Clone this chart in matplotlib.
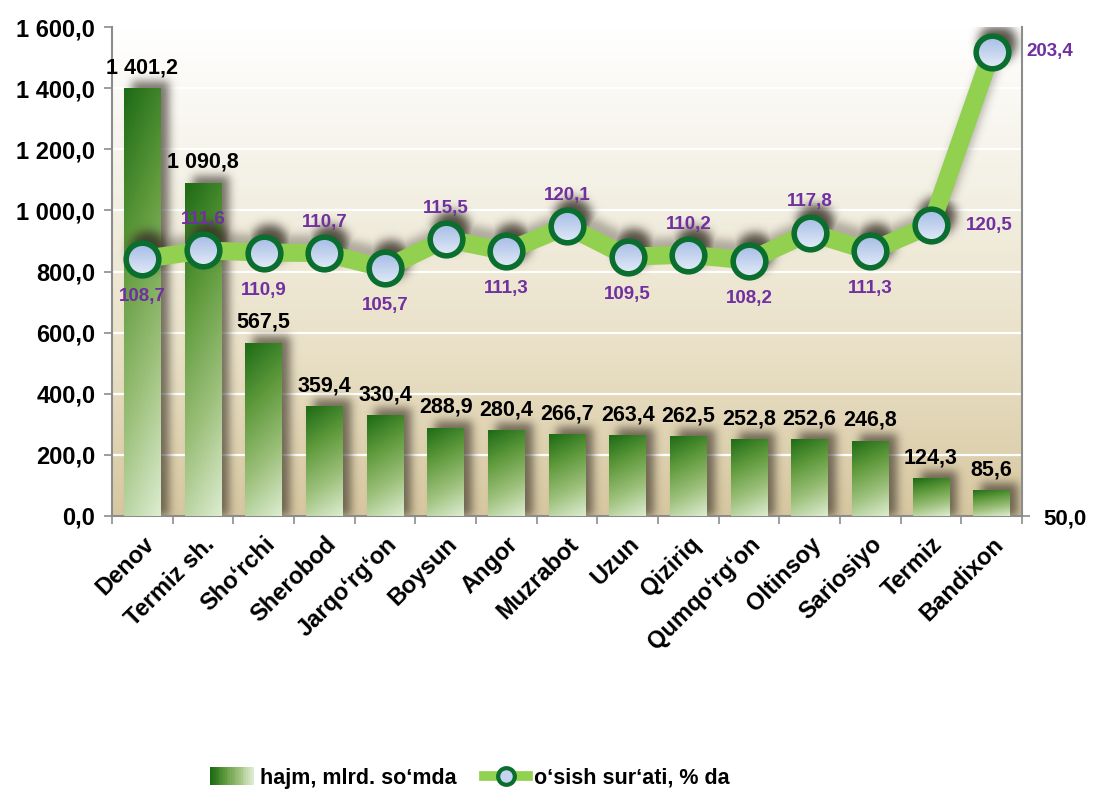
import matplotlib
matplotlib.use("Agg")
import matplotlib.pyplot as plt
import numpy as np
from matplotlib.colors import LinearSegmentedColormap
from matplotlib.patches import Rectangle, Circle
from matplotlib.lines import Line2D
from matplotlib.legend_handler import HandlerBase
from matplotlib.transforms import IdentityTransform
from matplotlib.ticker import FixedLocator, FuncFormatter

plt.rcParams["font.family"] = ["Liberation Sans", "DejaVu Sans"]
plt.rcParams["font.weight"] = "bold"

districts = ["Denov", "Termiz sh.", "Sho‘rchi", "Sherobod", "Jarqo‘rg‘on", "Boysun", "Angor",
             "Muzrabot", "Uzun", "Qiziriq", "Qumqo‘rg‘on", "Oltinsoy", "Sariosiyo", "Termiz", "Bandixon"]
hajm = [1401.2, 1090.8, 567.5, 359.4, 330.4, 288.9, 280.4, 266.7, 263.4, 262.5, 252.8, 252.6, 246.8, 124.3, 85.6]
osish = [108.7, 111.6, 110.9, 110.7, 105.7, 115.5, 111.3, 120.1, 109.5, 110.2, 108.2, 117.8, 111.3, 120.5, 203.4]
label_side = ["below", "above", "below", "above", "below", "above", "below", "above",
              "below", "above", "below", "above", "below", "right", "right"]

LINE_GREEN = "#92d050"
EDGE_GREEN = "#0a6e2e"
PURPLE = "#7030a0"
SHADOW_RGB = np.array([55, 48, 38]) / 255.0
bar_cmap = LinearSegmentedColormap.from_list("bar", ["#dcecd0", "#9cc07a", "#5f9a3c", "#1d6b15"])
bg_cmap = LinearSegmentedColormap.from_list("bg", ["#d7c7a0", "#e9e0c6", "#f3f0e4", "#ffffff"])
marker_cmap = LinearSegmentedColormap.from_list("mk", ["#e4ebf7", "#a4bce6"])


def fmt_num(v, _=None):
    return f"{v:,.1f}".replace(",", " ").replace(".", ",")


def blur(mask, sigma):
    r = int(3 * sigma)
    k = np.exp(-0.5 * (np.arange(-r, r + 1) / sigma) ** 2)
    k /= k.sum()
    out = np.apply_along_axis(lambda m: np.convolve(m, k, mode="same"), 0, mask)
    return np.apply_along_axis(lambda m: np.convolve(m, k, mode="same"), 1, out)


def shadow_image(alpha):
    img = np.zeros(alpha.shape + (4,))
    img[..., :3] = SHADOW_RGB
    img[..., 3] = np.clip(alpha, 0, 1)
    return img


fig = plt.figure(figsize=(10.93, 7.94), dpi=100)
ax = fig.add_axes([112 / 1093, 1 - 516 / 794, 910 / 1093, 489 / 794])
n = len(districts)
x = np.arange(n)
ax.set_xlim(-0.5, n - 0.5)
ax.set_ylim(0, 1600)

# pixel grid of the plot area for the soft shadows
bb = ax.bbox
W, H = int(round(bb.width)), int(round(bb.height))
PX = np.arange(W) + 0.5 + bb.x0
PY = np.arange(H) + 0.5 + bb.y0
GX, GY = np.meshgrid(PX, PY)

# background gradient
grad = np.linspace(0, 1, 256).reshape(-1, 1)
ax.imshow(grad, extent=(-0.5, n - 0.5, 0, 1600), origin="lower", aspect="auto",
          cmap=bg_cmap, zorder=0)
for yv in np.arange(200, 1601, 200):
    ax.axhline(yv, color="white", lw=1.6, zorder=1)

bw = 0.6
bars = ax.bar(x, hajm, width=bw, color="none", zorder=3)

# bar shadows (offset right and up, blurred)
bar_mask = np.zeros((H, W))
for rect in bars:
    (l, b), (r, t) = ax.transData.transform([(rect.get_x(), 0),
                                             (rect.get_x() + rect.get_width(), rect.get_height())])
    bar_mask[(GX >= l + 8) & (GX <= r + 8) & (GY <= t + 7)] = 1.0
ax.imshow(shadow_image(blur(bar_mask, 4.5) * 0.65), extent=(0, 1, 0, 1), origin="lower",
          aspect="auto", transform=ax.transAxes, zorder=2)

yy, xx = np.mgrid[0:1:100j, 0:1:40j]
garr = 0.82 * yy + 0.18 * (1 - xx)
for rect in bars:
    x0, w, h = rect.get_x(), rect.get_width(), rect.get_height()
    im = ax.imshow(garr, extent=(x0, x0 + w, 0, h), origin="lower", aspect="auto",
                   cmap=bar_cmap, vmin=0, vmax=1, zorder=3)
    im.set_clip_path(rect)

for i, h in enumerate(hajm):
    ax.annotate(fmt_num(h), (i, h), xytext=(0, 7), textcoords="offset points",
                ha="center", va="bottom", fontsize=15.5, fontweight="bold", color="black", zorder=6)

ax.set_xlim(-0.5, n - 0.5)
ax.set_ylim(0, 1600)
ax.yaxis.set_major_locator(FixedLocator(np.arange(0, 1601, 200)))
ax.yaxis.set_major_formatter(FuncFormatter(fmt_num))
ax.set_xticks(x)
ax.set_xticklabels(districts, rotation=45, ha="right", rotation_mode="anchor",
                   fontsize=17, fontweight="bold")
ax.set_xticks(np.arange(-0.5, n, 1), minor=True)
ax.tick_params(axis="x", which="major", length=0, pad=12)
ax.tick_params(axis="x", which="minor", length=6, color="#8c8c8c", width=1.2, direction="out")
ax.tick_params(axis="y", length=6, color="#8c8c8c", width=1.2, labelsize=17, pad=6)
for s in ["top", "right"]:
    ax.spines[s].set_visible(False)
for s in ["left", "bottom"]:
    ax.spines[s].set_color("#8c8c8c")
    ax.spines[s].set_linewidth(1.5)

# secondary axis (log scale)
ax2 = ax.twinx()
ax2.set_yscale("log")
ax2.set_ylim(50, 219.3)
ax2.set_xlim(-0.5, n - 0.5)
ax2.yaxis.set_major_locator(FixedLocator([50]))
ax2.yaxis.set_minor_locator(FixedLocator([]))
ax2.yaxis.set_major_formatter(FuncFormatter(fmt_num))
ax2.tick_params(axis="y", length=6, color="#8c8c8c", width=1.2, labelsize=16, pad=9)
for s in ["top", "left", "bottom"]:
    ax2.spines[s].set_visible(False)
ax2.spines["right"].set_color("#8c8c8c")
ax2.spines["right"].set_linewidth(1.5)

# line + marker shadows
pts = ax2.transData.transform(np.column_stack([x, osish])) + np.array([6, 9])
line_dist = np.full((H, W), np.inf)
for (ax_, ay_), (bx_, by_) in zip(pts[:-1], pts[1:]):
    dx, dy = bx_ - ax_, by_ - ay_
    tt = np.clip(((GX - ax_) * dx + (GY - ay_) * dy) / (dx * dx + dy * dy), 0, 1)
    d = np.hypot(GX - (ax_ + tt * dx), GY - (ay_ + tt * dy))
    line_dist = np.minimum(line_dist, d)
pt_dist = np.full((H, W), np.inf)
for px, py in pts:
    pt_dist = np.minimum(pt_dist, np.hypot(GX - px, GY - py))
line_alpha = np.maximum(blur((line_dist <= 9).astype(float), 4.5) * 0.35,
                        blur((pt_dist <= 19).astype(float), 5) * 0.85)
ax2.imshow(shadow_image(line_alpha), extent=(0, 1, 0, 1), origin="lower", aspect="auto",
           transform=ax2.transAxes, zorder=1)

ax2.plot(x, osish, color=LINE_GREEN, lw=13, solid_joinstyle="round", zorder=2)

# gradient-filled markers
mgrad = np.linspace(0, 1, 64).reshape(-1, 1)
for px, py in ax2.transData.transform(np.column_stack([x, osish])):
    r = 16.5
    mim = ax2.imshow(mgrad, extent=(px - r, px + r, py - r, py + r), origin="lower",
                     aspect="auto", cmap=marker_cmap, transform=IdentityTransform(), zorder=3)
    mim.set_clip_path(Circle((px, py), r, transform=IdentityTransform()))
ax2.plot(x, osish, ls="none", marker="o", ms=23.5, mfc="none", mec=EDGE_GREEN, mew=4, zorder=4)

for i, v in enumerate(osish):
    side = label_side[i]
    if side == "below":
        off, ha = (0, -27), "center"
    elif side == "above":
        off, ha = (0, 22), "center"
    else:
        off, ha = (25, 0), "left"
    ax2.annotate(fmt_num(v), (i, v), xytext=off, textcoords="offset points", ha=ha,
                 va="center", fontsize=13.5, fontweight="bold", color=PURPLE, zorder=5)

ax2.set_xlim(-0.5, n - 0.5)
ax2.set_ylim(50, 219.3)
ax.set_xlim(-0.5, n - 0.5)
ax.set_ylim(0, 1600)


class GradientHandler(HandlerBase):
    def create_artists(self, legend, orig_handle, xdescent, ydescent, width, height, fontsize, trans):
        arts = []
        k = 24
        cols = bar_cmap(np.linspace(1, 0, k))
        for j in range(k):
            arts.append(Rectangle((-xdescent + j * width / k, -ydescent), width / k * 1.1, height,
                                  facecolor=cols[j], edgecolor="none", transform=trans))
        return arts


bar_handle = Rectangle((0, 0), 1, 1)
line_handle = Line2D([], [], color=LINE_GREEN, lw=7, marker="o", ms=12, mfc="#c4d4f1",
                     mec=EDGE_GREEN, mew=3)
fig.legend([bar_handle, line_handle], ["hajm, mlrd. so‘mda", "o‘sish sur‘ati, % da"],
           handler_map={Rectangle: GradientHandler()}, loc="center", bbox_to_anchor=(0.43, 0.02),
           ncol=2, frameon=False, prop={"size": 15.5, "weight": "bold"}, handlelength=2.0,
           handleheight=0.9, columnspacing=1.3, handletextpad=0.3)

fig.savefig("out.png", dpi=100)
